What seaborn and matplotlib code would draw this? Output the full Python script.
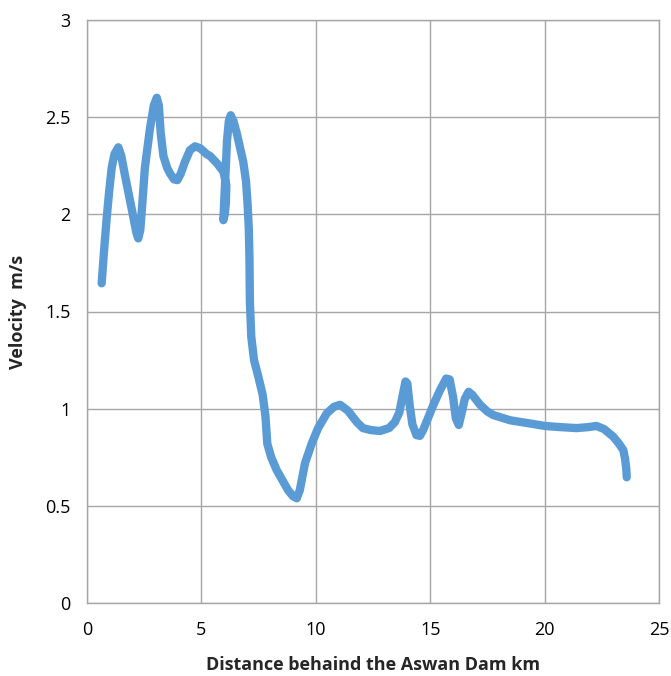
import matplotlib
matplotlib.use("Agg")
import matplotlib.pyplot as plt
import seaborn as sns
import pandas as pd

distance_km = [0.64, 0.75, 0.86, 0.97, 1.08, 1.20, 1.37, 1.50, 1.66, 1.95, 2.15, 2.24, 2.33,
               2.42, 2.53, 2.75, 2.92, 3.05, 3.14, 3.22, 3.34, 3.50, 3.63, 3.80, 3.95, 4.10,
               4.28, 4.50, 4.72, 4.95, 5.23, 5.38, 5.70, 5.96, 6.09, 6.07, 6.02, 5.96,
               5.99, 6.05, 6.12, 6.20, 6.28, 6.40, 6.54, 6.83, 6.95, 7.02, 7.07, 7.10,
               7.12, 7.18, 7.30, 7.49, 7.68, 7.80, 7.88, 8.05, 8.29, 8.79, 9.00, 9.17,
               9.30, 9.53, 9.82, 10.10, 10.48, 10.80, 11.06, 11.40, 11.80, 12.06, 12.40,
               12.80, 13.20, 13.45, 13.65, 13.80, 13.92, 14.00, 14.10, 14.22, 14.40, 14.55,
               14.69, 14.90, 15.14, 15.45, 15.70, 15.85, 16.00, 16.12, 16.25, 16.38, 16.51,
               16.68, 16.85, 17.18, 17.50, 17.76, 18.50, 19.30, 20.01, 20.70, 21.40, 21.90,
               22.27, 22.60, 23.00, 23.25, 23.44, 23.52, 23.57, 23.59]
velocity_ms = [1.645, 1.82, 1.98, 2.12, 2.24, 2.31, 2.345, 2.30, 2.20, 2.03, 1.91, 1.876, 1.92,
               2.06, 2.24, 2.44, 2.56, 2.60, 2.56, 2.42, 2.30, 2.24, 2.21, 2.18, 2.176, 2.21,
               2.27, 2.33, 2.35, 2.34, 2.31, 2.30, 2.26, 2.22, 2.15, 2.06, 2.00, 1.97,
               2.05, 2.20, 2.38, 2.48, 2.51, 2.48, 2.42, 2.27, 2.17, 2.05, 1.93, 1.78,
               1.55, 1.37, 1.25, 1.164, 1.07, 0.96, 0.82, 0.75, 0.684, 0.58, 0.55, 0.539,
               0.58, 0.72, 0.82, 0.90, 0.976, 1.01, 1.02, 0.99, 0.93, 0.90, 0.89,
               0.885, 0.90, 0.93, 0.98, 1.07, 1.14, 1.13, 1.02, 0.92, 0.864, 0.86,
               0.89, 0.95, 1.02, 1.10, 1.155, 1.15, 1.06, 0.95, 0.916, 0.98, 1.05,
               1.087, 1.07, 1.02, 0.985, 0.967, 0.94, 0.925, 0.911, 0.905, 0.90, 0.905,
               0.911, 0.895, 0.856, 0.82, 0.787, 0.74, 0.69, 0.647]

x_ticks = [0, 5, 10, 15, 20, 25]
y_ticks = [0, 0.5, 1, 1.5, 2, 2.5, 3]
y_tick_labels = ["0", "0.5", "1", "1.5", "2", "2.5", "3"]

df = pd.DataFrame({"Distance": distance_km, "Velocity": velocity_ms})

sns.set_style("white")
plt.rcParams['font.family'] = ['Open Sans', 'DejaVu Sans']

fig = plt.figure(figsize=(6.71, 6.76), dpi=100)
ax = fig.add_axes([87/671, 73/676, 572/671, 583/676])

sns.lineplot(data=df, x="Distance", y="Velocity", sort=False, estimator=None,
             color="#5B9BD5", linewidth=6, ax=ax, solid_capstyle="round",
             solid_joinstyle="round")

ax.set_xlim(0, 25)
ax.set_ylim(0, 3)
ax.set_xticks(x_ticks)
ax.set_yticks(y_ticks)
ax.set_yticklabels(y_tick_labels)
ax.grid(True, color="#A6A6A6", linewidth=1.0)
ax.set_axisbelow(True)
for s in ax.spines.values():
    s.set_color("#A6A6A6")
    s.set_linewidth(1.0)
ax.tick_params(axis="both", length=0, labelsize=13, colors="#000000")
ax.tick_params(axis="x", pad=13)
ax.tick_params(axis="y", pad=12)

ax.set_xlabel("Distance behaind the Aswan Dam km", fontsize=13, fontweight="bold", labelpad=12)
ax.set_ylabel("Velocity  m/s", fontsize=13, fontweight="bold", labelpad=13)

fig.savefig("out.png", dpi=100)
